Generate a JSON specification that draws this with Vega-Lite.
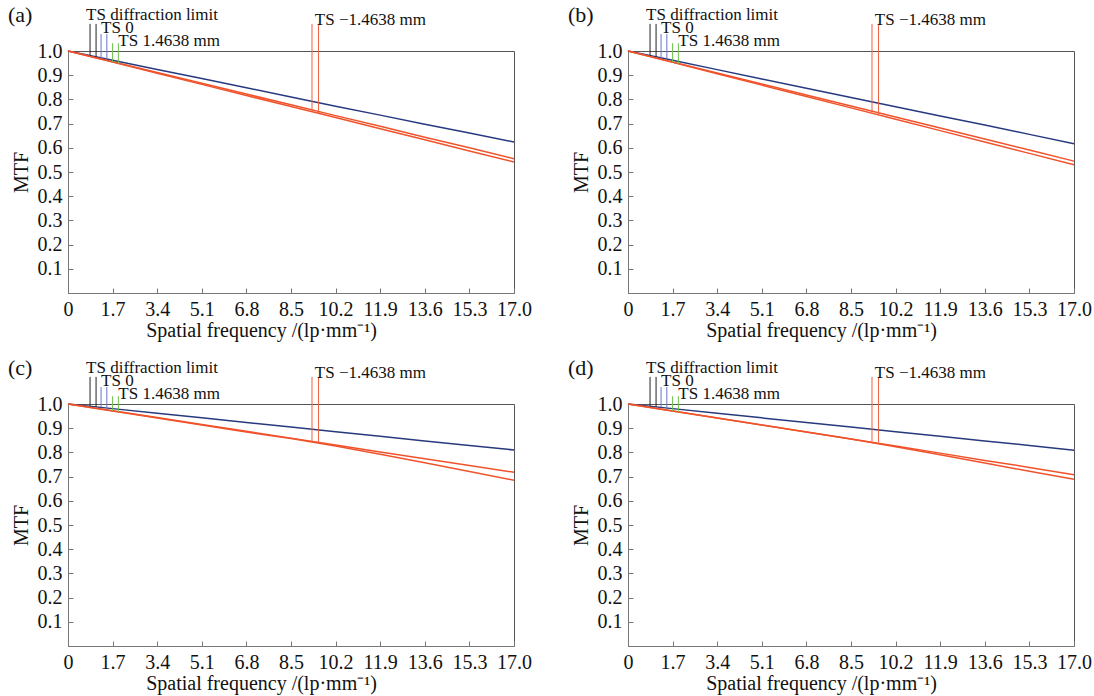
{
  "$schema": "https://vega.github.io/schema/vega-lite/v6.json",
  "padding": {"left": 7, "top": 3, "right": 5, "bottom": 2},
  "background": "white",
  "data": {"values": [
    {"p":"a","k":"L","s":"blue","x":0,"y":1},{"p":"a","k":"L","s":"blue","x":1.7,"y":0.962},{"p":"a","k":"L","s":"blue","x":3.4,"y":0.924},{"p":"a","k":"L","s":"blue","x":5.1,"y":0.886},{"p":"a","k":"L","s":"blue","x":6.8,"y":0.848},{"p":"a","k":"L","s":"blue","x":8.5,"y":0.810},{"p":"a","k":"L","s":"blue","x":10.2,"y":0.772},{"p":"a","k":"L","s":"blue","x":11.9,"y":0.735},{"p":"a","k":"L","s":"blue","x":13.6,"y":0.697},{"p":"a","k":"L","s":"blue","x":15.3,"y":0.661},{"p":"a","k":"L","s":"blue","x":17,"y":0.624},
    {"p":"a","k":"L","s":"o1","x":0,"y":1},{"p":"a","k":"L","s":"o1","x":1.7,"y":0.956},{"p":"a","k":"L","s":"o1","x":3.4,"y":0.911},{"p":"a","k":"L","s":"o1","x":5.1,"y":0.867},{"p":"a","k":"L","s":"o1","x":6.8,"y":0.822},{"p":"a","k":"L","s":"o1","x":8.5,"y":0.778},{"p":"a","k":"L","s":"o1","x":10.2,"y":0.733},{"p":"a","k":"L","s":"o1","x":11.9,"y":0.689},{"p":"a","k":"L","s":"o1","x":13.6,"y":0.644},{"p":"a","k":"L","s":"o1","x":15.3,"y":0.600},{"p":"a","k":"L","s":"o1","x":17,"y":0.555},
    {"p":"a","k":"L","s":"o2","x":0,"y":1},{"p":"a","k":"L","s":"o2","x":1.7,"y":0.954},{"p":"a","k":"L","s":"o2","x":3.4,"y":0.908},{"p":"a","k":"L","s":"o2","x":5.1,"y":0.862},{"p":"a","k":"L","s":"o2","x":6.8,"y":0.816},{"p":"a","k":"L","s":"o2","x":8.5,"y":0.771},{"p":"a","k":"L","s":"o2","x":10.2,"y":0.725},{"p":"a","k":"L","s":"o2","x":11.9,"y":0.679},{"p":"a","k":"L","s":"o2","x":13.6,"y":0.633},{"p":"a","k":"L","s":"o2","x":15.3,"y":0.587},{"p":"a","k":"L","s":"o2","x":17,"y":0.541},

    {"p":"b","k":"L","s":"blue","x":0,"y":1},{"p":"b","k":"L","s":"blue","x":1.7,"y":0.9615},{"p":"b","k":"L","s":"blue","x":3.4,"y":0.923},{"p":"b","k":"L","s":"blue","x":5.1,"y":0.8845},{"p":"b","k":"L","s":"blue","x":6.8,"y":0.846},{"p":"b","k":"L","s":"blue","x":8.5,"y":0.8075},{"p":"b","k":"L","s":"blue","x":10.2,"y":0.7695},{"p":"b","k":"L","s":"blue","x":11.9,"y":0.7315},{"p":"b","k":"L","s":"blue","x":13.6,"y":0.694},{"p":"b","k":"L","s":"blue","x":15.3,"y":0.6555},{"p":"b","k":"L","s":"blue","x":17,"y":0.617},
    {"p":"b","k":"L","s":"o1","x":0,"y":1},{"p":"b","k":"L","s":"o1","x":1.7,"y":0.9545},{"p":"b","k":"L","s":"o1","x":3.4,"y":0.909},{"p":"b","k":"L","s":"o1","x":5.1,"y":0.8635},{"p":"b","k":"L","s":"o1","x":6.8,"y":0.818},{"p":"b","k":"L","s":"o1","x":8.5,"y":0.7725},{"p":"b","k":"L","s":"o1","x":10.2,"y":0.727},{"p":"b","k":"L","s":"o1","x":11.9,"y":0.6815},{"p":"b","k":"L","s":"o1","x":13.6,"y":0.636},{"p":"b","k":"L","s":"o1","x":15.3,"y":0.5905},{"p":"b","k":"L","s":"o1","x":17,"y":0.545},
    {"p":"b","k":"L","s":"o2","x":0,"y":1},{"p":"b","k":"L","s":"o2","x":1.7,"y":0.953},{"p":"b","k":"L","s":"o2","x":3.4,"y":0.906},{"p":"b","k":"L","s":"o2","x":5.1,"y":0.859},{"p":"b","k":"L","s":"o2","x":6.8,"y":0.812},{"p":"b","k":"L","s":"o2","x":8.5,"y":0.765},{"p":"b","k":"L","s":"o2","x":10.2,"y":0.718},{"p":"b","k":"L","s":"o2","x":11.9,"y":0.671},{"p":"b","k":"L","s":"o2","x":13.6,"y":0.624},{"p":"b","k":"L","s":"o2","x":15.3,"y":0.577},{"p":"b","k":"L","s":"o2","x":17,"y":0.530},

    {"p":"c","k":"L","s":"blue","x":0,"y":1},{"p":"c","k":"L","s":"blue","x":1.7,"y":0.9809},{"p":"c","k":"L","s":"blue","x":3.4,"y":0.9618},{"p":"c","k":"L","s":"blue","x":5.1,"y":0.9427},{"p":"c","k":"L","s":"blue","x":6.8,"y":0.9237},{"p":"c","k":"L","s":"blue","x":8.5,"y":0.9046},{"p":"c","k":"L","s":"blue","x":10.2,"y":0.8855},{"p":"c","k":"L","s":"blue","x":11.9,"y":0.8666},{"p":"c","k":"L","s":"blue","x":13.6,"y":0.8476},{"p":"c","k":"L","s":"blue","x":15.3,"y":0.8286},{"p":"c","k":"L","s":"blue","x":17,"y":0.810},
    {"p":"c","k":"L","s":"o1","x":0,"y":1},{"p":"c","k":"L","s":"o1","x":1.7,"y":0.972},{"p":"c","k":"L","s":"o1","x":3.4,"y":0.944},{"p":"c","k":"L","s":"o1","x":5.1,"y":0.915},{"p":"c","k":"L","s":"o1","x":6.8,"y":0.887},{"p":"c","k":"L","s":"o1","x":8.5,"y":0.859},{"p":"c","k":"L","s":"o1","x":10.2,"y":0.831},{"p":"c","k":"L","s":"o1","x":11.9,"y":0.802},{"p":"c","k":"L","s":"o1","x":13.6,"y":0.774},{"p":"c","k":"L","s":"o1","x":15.3,"y":0.746},{"p":"c","k":"L","s":"o1","x":17,"y":0.718},
    {"p":"c","k":"L","s":"o2","x":0,"y":1},{"p":"c","k":"L","s":"o2","x":1.7,"y":0.971},{"p":"c","k":"L","s":"o2","x":3.4,"y":0.942},{"p":"c","k":"L","s":"o2","x":5.1,"y":0.913},{"p":"c","k":"L","s":"o2","x":6.8,"y":0.884},{"p":"c","k":"L","s":"o2","x":8.5,"y":0.857},{"p":"c","k":"L","s":"o2","x":10.2,"y":0.826},{"p":"c","k":"L","s":"o2","x":11.9,"y":0.792},{"p":"c","k":"L","s":"o2","x":13.6,"y":0.757},{"p":"c","k":"L","s":"o2","x":15.3,"y":0.721},{"p":"c","k":"L","s":"o2","x":17,"y":0.685},

    {"p":"d","k":"L","s":"blue","x":0,"y":1},{"p":"d","k":"L","s":"blue","x":1.7,"y":0.9809},{"p":"d","k":"L","s":"blue","x":3.4,"y":0.9618},{"p":"d","k":"L","s":"blue","x":5.1,"y":0.9427},{"p":"d","k":"L","s":"blue","x":6.8,"y":0.9237},{"p":"d","k":"L","s":"blue","x":8.5,"y":0.9046},{"p":"d","k":"L","s":"blue","x":10.2,"y":0.8855},{"p":"d","k":"L","s":"blue","x":11.9,"y":0.8666},{"p":"d","k":"L","s":"blue","x":13.6,"y":0.8476},{"p":"d","k":"L","s":"blue","x":15.3,"y":0.8286},{"p":"d","k":"L","s":"blue","x":17,"y":0.809},
    {"p":"d","k":"L","s":"o1","x":0,"y":1},{"p":"d","k":"L","s":"o1","x":1.7,"y":0.971},{"p":"d","k":"L","s":"o1","x":3.4,"y":0.942},{"p":"d","k":"L","s":"o1","x":5.1,"y":0.913},{"p":"d","k":"L","s":"o1","x":6.8,"y":0.884},{"p":"d","k":"L","s":"o1","x":8.5,"y":0.855},{"p":"d","k":"L","s":"o1","x":10.2,"y":0.826},{"p":"d","k":"L","s":"o1","x":11.9,"y":0.797},{"p":"d","k":"L","s":"o1","x":13.6,"y":0.767},{"p":"d","k":"L","s":"o1","x":15.3,"y":0.738},{"p":"d","k":"L","s":"o1","x":17,"y":0.708},
    {"p":"d","k":"L","s":"o2","x":0,"y":1},{"p":"d","k":"L","s":"o2","x":1.7,"y":0.971},{"p":"d","k":"L","s":"o2","x":3.4,"y":0.942},{"p":"d","k":"L","s":"o2","x":5.1,"y":0.913},{"p":"d","k":"L","s":"o2","x":6.8,"y":0.884},{"p":"d","k":"L","s":"o2","x":8.5,"y":0.855},{"p":"d","k":"L","s":"o2","x":10.2,"y":0.823},{"p":"d","k":"L","s":"o2","x":11.9,"y":0.790},{"p":"d","k":"L","s":"o2","x":13.6,"y":0.756},{"p":"d","k":"L","s":"o2","x":15.3,"y":0.722},{"p":"d","k":"L","s":"o2","x":17,"y":0.689},

    {"p":"a","k":"R","s":"rk","x":0.84,"y":0.981,"y2":1.112},{"p":"a","k":"R","s":"rk","x":1.07,"y":0.976,"y2":1.112},
    {"p":"a","k":"R","s":"rb","x":1.26,"y":0.972,"y2":1.07},{"p":"a","k":"R","s":"rb","x":1.48,"y":0.967,"y2":1.07},
    {"p":"a","k":"R","s":"rg","x":1.70,"y":0.954,"y2":1.032},{"p":"a","k":"R","s":"rg","x":1.92,"y":0.948,"y2":1.032},
    {"p":"a","k":"R","s":"ro","x":9.30,"y":0.750,"y2":1.112},{"p":"a","k":"R","s":"ro","x":9.55,"y":0.743,"y2":1.112},
    {"p":"b","k":"R","s":"rk","x":0.84,"y":0.981,"y2":1.112},{"p":"b","k":"R","s":"rk","x":1.07,"y":0.976,"y2":1.112},
    {"p":"b","k":"R","s":"rb","x":1.26,"y":0.971,"y2":1.07},{"p":"b","k":"R","s":"rb","x":1.48,"y":0.966,"y2":1.07},
    {"p":"b","k":"R","s":"rg","x":1.70,"y":0.953,"y2":1.032},{"p":"b","k":"R","s":"rg","x":1.92,"y":0.947,"y2":1.032},
    {"p":"b","k":"R","s":"ro","x":9.30,"y":0.746,"y2":1.112},{"p":"b","k":"R","s":"ro","x":9.55,"y":0.739,"y2":1.112},
    {"p":"c","k":"R","s":"rk","x":0.84,"y":0.991,"y2":1.112},{"p":"c","k":"R","s":"rk","x":1.07,"y":0.988,"y2":1.112},
    {"p":"c","k":"R","s":"rb","x":1.26,"y":0.986,"y2":1.07},{"p":"c","k":"R","s":"rb","x":1.48,"y":0.983,"y2":1.07},
    {"p":"c","k":"R","s":"rg","x":1.70,"y":0.972,"y2":1.032},{"p":"c","k":"R","s":"rg","x":1.92,"y":0.968,"y2":1.032},
    {"p":"c","k":"R","s":"ro","x":9.30,"y":0.847,"y2":1.112},{"p":"c","k":"R","s":"ro","x":9.55,"y":0.843,"y2":1.112},
    {"p":"d","k":"R","s":"rk","x":0.84,"y":0.991,"y2":1.112},{"p":"d","k":"R","s":"rk","x":1.07,"y":0.988,"y2":1.112},
    {"p":"d","k":"R","s":"rb","x":1.26,"y":0.986,"y2":1.07},{"p":"d","k":"R","s":"rb","x":1.48,"y":0.983,"y2":1.07},
    {"p":"d","k":"R","s":"rg","x":1.70,"y":0.971,"y2":1.032},{"p":"d","k":"R","s":"rg","x":1.92,"y":0.967,"y2":1.032},
    {"p":"d","k":"R","s":"ro","x":9.30,"y":0.845,"y2":1.112},{"p":"d","k":"R","s":"ro","x":9.55,"y":0.841,"y2":1.112},

    {"p":"a","k":"T","t":"TS diffraction limit","x":0.69,"y":1.128},{"p":"a","k":"T","t":"TS 0","x":1.26,"y":1.074},{"p":"a","k":"T","t":"TS 1.4638 mm","x":1.92,"y":1.022},{"p":"a","k":"T","t":"TS −1.4638 mm","x":9.41,"y":1.107},{"p":"a","k":"G","t":"(a)","x":-2.29,"y":1.12},
    {"p":"b","k":"T","t":"TS diffraction limit","x":0.69,"y":1.128},{"p":"b","k":"T","t":"TS 0","x":1.26,"y":1.074},{"p":"b","k":"T","t":"TS 1.4638 mm","x":1.92,"y":1.022},{"p":"b","k":"T","t":"TS −1.4638 mm","x":9.41,"y":1.107},{"p":"b","k":"G","t":"(b)","x":-2.29,"y":1.12},
    {"p":"c","k":"T","t":"TS diffraction limit","x":0.69,"y":1.128},{"p":"c","k":"T","t":"TS 0","x":1.26,"y":1.074},{"p":"c","k":"T","t":"TS 1.4638 mm","x":1.92,"y":1.022},{"p":"c","k":"T","t":"TS −1.4638 mm","x":9.41,"y":1.107},{"p":"c","k":"G","t":"(c)","x":-2.29,"y":1.12},
    {"p":"d","k":"T","t":"TS diffraction limit","x":0.69,"y":1.128},{"p":"d","k":"T","t":"TS 0","x":1.26,"y":1.074},{"p":"d","k":"T","t":"TS 1.4638 mm","x":1.92,"y":1.022},{"p":"d","k":"T","t":"TS −1.4638 mm","x":9.41,"y":1.107},{"p":"d","k":"G","t":"(d)","x":-2.29,"y":1.12}
  ]},
  "facet": {"field": "p", "type": "nominal", "header": {"title": null, "labels": false, "labelExpr": "''", "labelFontSize": 0, "labelPadding": 0}},
  "columns": 2,
  "spacing": {"row": 15, "column": 35},
  "resolve": {"axis": {"x": "independent", "y": "independent"}},
  "spec": {
    "width": 446,
    "height": 242,
    "encoding": {
      "x": {"field": "x", "type": "quantitative",
        "scale": {"domain": [0, 17], "nice": false, "zero": false},
        "axis": {"values": [0, 1.7, 3.4, 5.1, 6.8, 8.5, 10.2, 11.9, 13.6, 15.3, 17],
          "labelExpr": "datum.value == 0 ? '0' : format(datum.value, '.1f')",
          "labelFlush": false, "labelOverlap": false,
          "titleX": 193, "titleAlign": "center",
          "title": "Spatial frequency /(lp·mm⁻¹)"}},
      "y": {"field": "y", "type": "quantitative",
        "scale": {"domain": [0, 1], "nice": false, "zero": false},
        "axis": {"values": [0.1, 0.2, 0.3, 0.4, 0.5, 0.6, 0.7, 0.8, 0.9, 1.0],
          "format": ".1f", "title": "MTF", "labelOverlap": false}}
    },
    "layer": [
      {"transform": [{"filter": "datum.k == 'L'"}],
       "mark": {"type": "line", "strokeWidth": 1.5, "clip": false},
       "encoding": {
         "color": {"field": "s", "type": "nominal", "legend": null,
           "scale": {"domain": ["blue", "o1", "o2", "rk", "rb", "rg", "ro"],
                     "range": ["#27397f", "#f0532b", "#f0532b", "#222222", "#6677cc", "#6cc04a", "#f0603c"]}},
         "detail": {"field": "s"}}},
      {"transform": [{"filter": "datum.k == 'R'"}],
       "mark": {"type": "rule", "strokeWidth": 1},
       "encoding": {
         "y2": {"field": "y2"},
         "color": {"field": "s", "type": "nominal", "legend": null}}},
      {"transform": [{"filter": "datum.k == 'T'"}],
       "mark": {"type": "text", "align": "left", "baseline": "alphabetic", "fontSize": 17, "font": "Liberation Serif", "color": "#111"},
       "encoding": {"text": {"field": "t"}}},
      {"transform": [{"filter": "datum.k == 'G'"}],
       "mark": {"type": "text", "align": "left", "baseline": "alphabetic", "fontSize": 22, "font": "Liberation Serif", "color": "#111"},
       "encoding": {"text": {"field": "t"}}}
    ]
  },
  "config": {
    "font": "Liberation Serif",
    "header": {"labels": false, "title": null},
    "headerFacet": {"labels": false, "title": null},
    "view": {"stroke": "#555555", "strokeWidth": 1},
    "axis": {
      "grid": false,
      "domainColor": "#777777",
      "tickColor": "#777777",
      "tickSize": -5,
      "labelPadding": 11,
      "labelFont": "Liberation Serif",
      "labelFontSize": 20,
      "labelColor": "#111",
      "titleFont": "Liberation Serif",
      "titleFontSize": 20,
      "titleFontWeight": "normal",
      "titleColor": "#111"
    },
    "axisX": {"titlePadding": 1},
    "axisY": {"titlePadding": 6}
  }
}
